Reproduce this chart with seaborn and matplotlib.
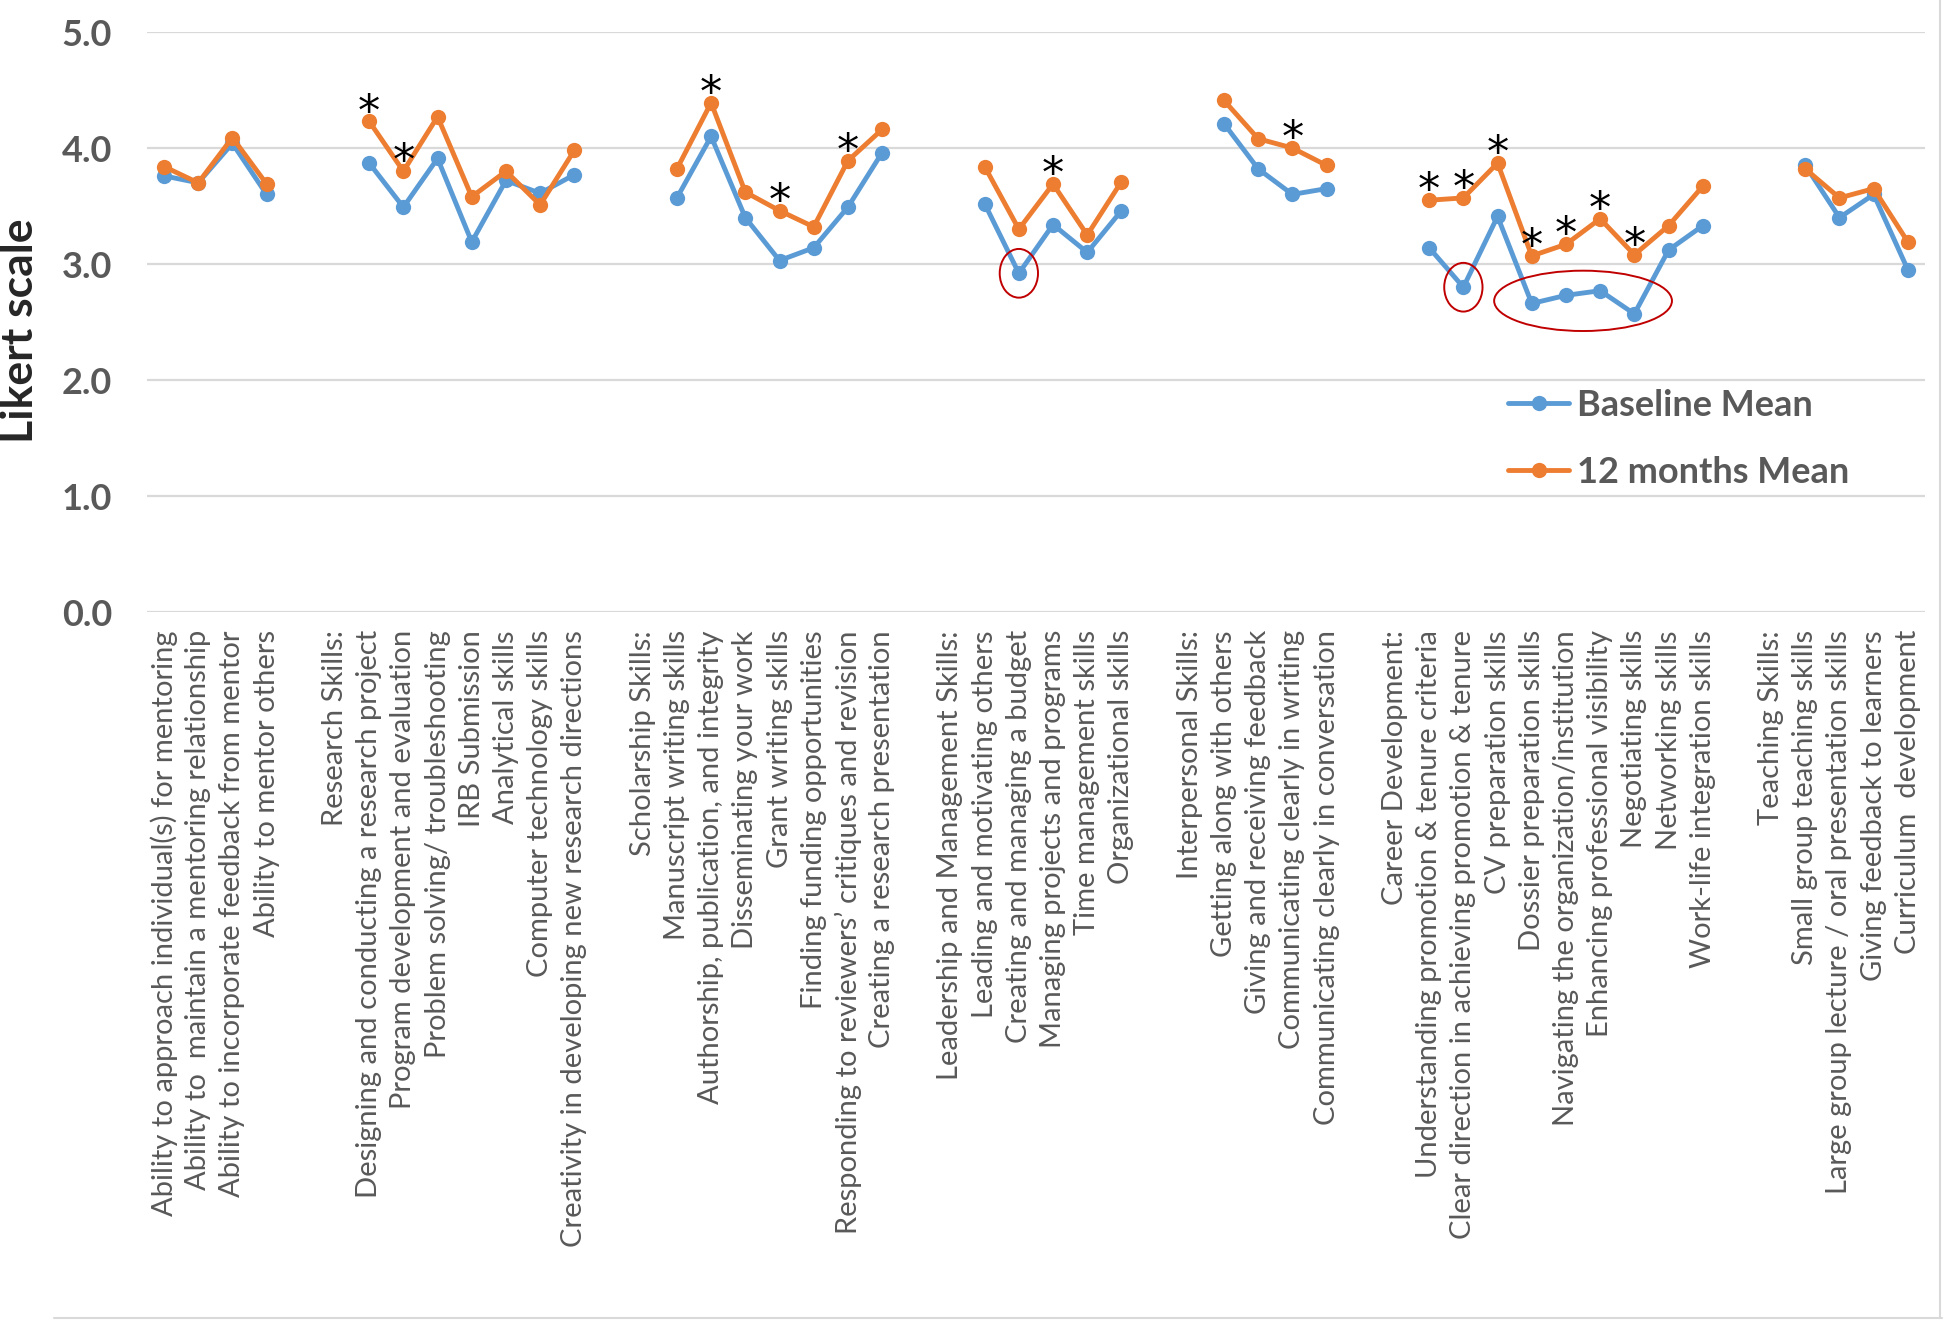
import numpy as np
import pandas as pd
import matplotlib.pyplot as plt
import seaborn as sns
from matplotlib.patches import Ellipse
from matplotlib.lines import Line2D

# skill groups (header label, items) - first group has no header
group_headers = ["", "Research Skills:", "Scholarship Skills:",
                 "Leadership and Management Skills:", "Interpersonal Skills:",
                 "Career Development:", "Teaching Skills:"]
group_items = [
    ["Ability to approach individual(s) for mentoring",
     "Ability to  maintain a mentoring relationship",
     "Ability to incorporate feedback from mentor",
     "Ability to mentor others"],
    ["Designing and conducting a research project",
     "Program development and evaluation",
     "Problem solving/ troubleshooting",
     "IRB Submission",
     "Analytical skills",
     "Computer technology skills",
     "Creativity in developing new research directions"],
    ["Manuscript writing skills",
     "Authorship, publication, and integrity",
     "Disseminating your work",
     "Grant writing skills",
     "Finding funding opportunities",
     "Responding to reviewers\u2019 critiques and revision",
     "Creating a research presentation"],
    ["Leading and motivating others",
     "Creating and managing a budget",
     "Managing projects and programs",
     "Time management skills",
     "Organizational skills"],
    ["Getting along with others",
     "Giving and receiving feedback",
     "Communicating clearly in writing",
     "Communicating clearly in conversation"],
    ["Understanding promotion & tenure criteria",
     "Clear direction in achieving promotion & tenure",
     "CV preparation skills",
     "Dossier preparation skills",
     "Navigating the organization/institution",
     "Enhancing professional visibility",
     "Negotiating skills",
     "Networking skills",
     "Work-life integration skills"],
    ["Small group teaching skills",
     "Large group lecture / oral presentation skills",
     "Giving feedback to learners",
     "Curriculum  development"],
]
baseline_mean = [
    [3.76, 3.70, 4.04, 3.60],
    [3.87, 3.49, 3.91, 3.19, 3.72, 3.61, 3.77],
    [3.57, 4.10, 3.40, 3.03, 3.14, 3.49, 3.96],
    [3.52, 2.92, 3.34, 3.10, 3.46],
    [4.21, 3.82, 3.60, 3.65],
    [3.14, 2.80, 3.41, 2.66, 2.73, 2.77, 2.57, 3.12, 3.33],
    [3.85, 3.40, 3.60, 2.95],
]
months12_mean = [
    [3.84, 3.70, 4.09, 3.69],
    [4.23, 3.80, 4.27, 3.58, 3.80, 3.51, 3.98],
    [3.82, 4.39, 3.62, 3.46, 3.32, 3.89, 4.16],
    [3.84, 3.30, 3.69, 3.25, 3.71],
    [4.41, 4.08, 4.00, 3.85],
    [3.55, 3.57, 3.87, 3.07, 3.17, 3.39, 3.08, 3.33, 3.67],
    [3.82, 3.57, 3.65, 3.19],
]
# items marked significant (*)
significant = ["Designing and conducting a research project",
               "Program development and evaluation",
               "Authorship, publication, and integrity",
               "Grant writing skills",
               "Responding to reviewers\u2019 critiques and revision",
               "Managing projects and programs",
               "Communicating clearly in writing",
               "Understanding promotion & tenure criteria",
               "Clear direction in achieving promotion & tenure",
               "CV preparation skills",
               "Dossier preparation skills",
               "Navigating the organization/institution",
               "Enhancing professional visibility",
               "Negotiating skills"]
# baseline points circled in red
circled = [["Creating and managing a budget"],
           ["Clear direction in achieving promotion & tenure"],
           ["Dossier preparation skills", "Navigating the organization/institution",
            "Enhancing professional visibility", "Negotiating skills"]]

# build the category axis (blank slot + header before every group but the first)
labels = []
rows = []
for g, (head, items) in enumerate(zip(group_headers, group_items)):
    if g > 0:
        labels += ["", head]
    for item, b, m in zip(items, baseline_mean[g], months12_mean[g]):
        pos = len(labels)
        labels.append(item)
        rows.append((pos, item, b, "Baseline Mean", g))
        rows.append((pos, item, m, "12 months Mean", g))
df = pd.DataFrame(rows, columns=["pos", "item", "value", "series", "group"])

sns.set_theme(style="white")
plt.rcParams["font.family"] = ["Lato", "DejaVu Sans"]

fig = plt.figure(figsize=(19.46, 13.23), dpi=100)
ax = fig.add_axes([0.0755, 0.5374, 0.9137, 0.4384])

sns.lineplot(data=df, x="pos", y="value", hue="series", units="group",
             estimator=None, sort=False,
             palette={"Baseline Mean": "#5B9BD5", "12 months Mean": "#ED7D31"},
             marker="o", markersize=11, markeredgewidth=0, linewidth=3.5, ax=ax)

ax.set_xlim(-0.5, len(labels) - 0.5)
ax.set_ylim(0, 5)
ax.set_yticks(np.arange(0, 5.01, 1))
ax.set_yticklabels([f"{v:.1f}" for v in np.arange(0, 5.01, 1)])
ax.set_xticks(range(len(labels)))
ax.set_xticklabels(labels, rotation=90, fontsize=21, color="#595959")
ax.tick_params(axis="x", length=0, pad=13)
ax.tick_params(axis="y", length=0, pad=25, labelsize=26, labelcolor="#595959")
for t in ax.get_yticklabels():
    t.set_fontweight("bold")
ax.yaxis.grid(True, color="#d9d9d9", linewidth=1.6)
ax.set_axisbelow(True)
for s in ax.spines.values():
    s.set_visible(False)
ax.set_xlabel("")
ax.set_ylabel("Likert scale", fontsize=32, fontweight="bold", color="#262626")
ax.yaxis.set_label_coords(-0.06, 0.485)

# asterisks above 12-month points
m12 = df[df.series == "12 months Mean"].set_index("item")
for item in significant:
    ax.annotate("*", (m12.loc[item, "pos"], m12.loc[item, "value"]),
                xytext=(0, -3), textcoords="offset points",
                ha="center", va="baseline", fontsize=32,
                family="DejaVu Sans", color="black")

# red ellipses around low baseline values
base = df[df.series == "Baseline Mean"].set_index("item")
for items in circled:
    xs = base.loc[items, "pos"]
    ys = base.loc[items, "value"]
    w = 1.12 if len(items) == 1 else len(items) + 1.2
    h = 0.42 if len(items) == 1 else 0.52
    ax.add_patch(Ellipse((xs.mean(), ys.mean()), w, h, fill=False,
                         edgecolor="#C00000", linewidth=1.4, zorder=5))

handles, leg_labels = ax.get_legend_handles_labels()
ax.legend(handles, leg_labels, loc="upper left", bbox_to_anchor=(0.7655, 0.385),
          frameon=False, prop={"size": 26, "weight": "bold"},
          labelcolor="#595959", handlelength=1.7, handletextpad=0.2,
          labelspacing=0.95, borderpad=0, borderaxespad=0)

# chart border remnants (bottom and right)
fig.add_artist(Line2D([54 / 1946, 1942 / 1946], [1 - 1318 / 1323] * 2,
                      transform=fig.transFigure, color="#d9d9d9", lw=1.5))
fig.add_artist(Line2D([1940 / 1946] * 2, [1 - 1318 / 1323, 1.0],
                      transform=fig.transFigure, color="#d9d9d9", lw=1.5))

fig.savefig("out.png", dpi=100)
